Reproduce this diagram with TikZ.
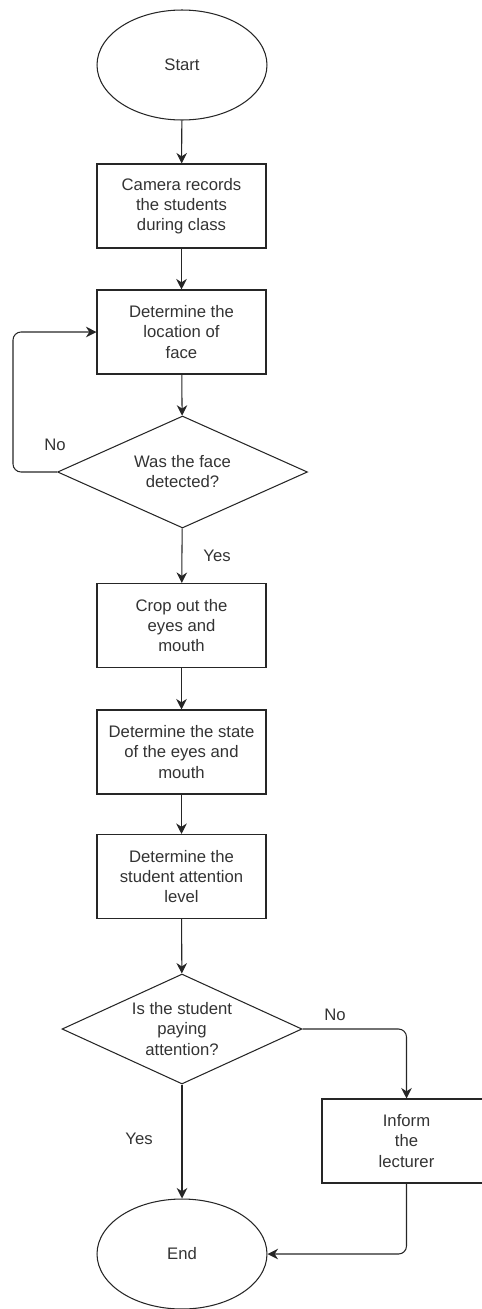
\documentclass[tikz,border=0pt]{standalone}
\usepackage{fontspec}
\setmainfont{Liberation Sans}
\usetikzlibrary{arrows.meta,positioning,shapes.geometric}

\begin{document}
\begin{tikzpicture}[x=0.02cm, y=-0.02cm, >={Stealth[length=6pt,width=6pt]},
  every node/.style={font=\fontsize{9.5}{11.4}\selectfont, text=black!80},
  procbox/.style={draw=black!85, line width=0.6pt, minimum width=3.38cm, minimum height=1.68cm, align=center, inner sep=0pt},
  terminal/.style={ellipse, draw=black!85, line width=0.6pt, minimum width=3.4cm, minimum height=2.2cm, inner sep=0pt},
  decision/.style={diamond, draw=black!85, line width=0.6pt, aspect=2.2, inner sep=0pt, align=center},
  flow/.style={->, draw=black!85, line width=0.6pt, rounded corners=0.16cm}]
  \useasboundingbox (0,0) rectangle (481,1309);

  % main column
  \node[terminal] (start) at (182,65) {Start};
  \node[procbox] (cam) at (181.5,206) {Camera records\\the students\\during class};
  \node[procbox] (loc) at (181.5,332) {Determine the\\location of\\face};
  \node[decision, minimum width=5cm, minimum height=2.24cm] (det) at (182.5,472) {Was the face\\detected?};
  \node[procbox] (crop) at (181.5,625.5) {Crop out the\\eyes and\\mouth};
  \node[procbox] (state) at (181.5,752) {Determine the state\\of the eyes and\\mouth};
  \node[procbox] (level) at (181.5,876.5) {Determine the\\student attention\\level};
  \node[decision, minimum width=4.8cm, minimum height=2.2cm] (pay) at (182,1029) {Is the student\\paying\\attention?};
  \node[procbox] (inform) at (406.5,1141) {Inform\\the\\lecturer};
  \node[terminal] (end) at (182,1254) {End};

  % connectors
  \coordinate (loopc) at (13,472);
  \draw[flow] (start) -- (cam);
  \draw[flow] (cam) -- (loc);
  \draw[flow] (loc) -- (det);
  \draw[flow] (det.west) -- (loopc) |- (loc.west);
  \node (nodet) at (55,445) {No};
  \draw[flow] (det) -- (crop);
  \node (yesdet) at (217,556) {Yes};
  \draw[flow] (crop) -- (state);
  \draw[flow] (state) -- (level);
  \draw[flow] (level) -- (pay);
  \draw[flow] (pay.east) -| (inform.north);
  \node (nopay) at (335,1015) {No};
  \draw[flow] (pay) -- (end);
  \node (yespay) at (139,1139) {Yes};
  \draw[flow] (inform.south) |- (end.east);
\end{tikzpicture}
\end{document}
